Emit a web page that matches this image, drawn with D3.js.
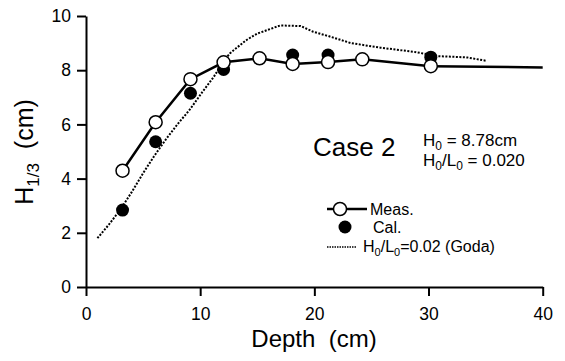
<!DOCTYPE html>
<html><head><meta charset="utf-8">
<script src="https://cdn.jsdelivr.net/npm/d3@7"></script>
<style>
body{margin:0;background:#fff;}
text{font-family:"Liberation Sans",Arial,Helvetica,sans-serif;fill:#000;white-space:pre;}
</style></head><body>
<svg id="c" width="565" height="361"></svg>
<script>
// Data
const measDepth = [3.2, 6.1, 9.15, 12.05, 15.2, 18.1, 21.2, 24.2, 30.2];
const measH     = [4.29, 6.08, 7.67, 8.29, 8.44, 8.23, 8.30, 8.40, 8.15];
const measTailDepth = [30.2, 40];
const measTailH     = [8.15, 8.10];
const calDepth = [3.2, 6.1, 9.15, 12.05, 18.1, 21.2, 30.2];
const calH     = [2.84, 5.36, 7.15, 8.03, 8.56, 8.56, 8.48];
const godaDepth = [1.0, 2.0, 3.0, 4.0, 5.0, 6.0, 7.0, 8.0, 9.1, 10.2, 11.2, 12.0, 12.6, 14.0, 15.0, 17.0, 18.8, 19.9, 21.3, 23.2, 25.8, 28.7, 30.8, 33.4, 35.0];
const godaH     = [1.8, 2.3, 2.85, 3.5, 4.2, 4.85, 5.45, 6.0, 6.55, 7.2, 7.76, 8.3, 8.62, 9.1, 9.35, 9.65, 9.63, 9.42, 9.25, 9.0, 8.83, 8.68, 8.52, 8.47, 8.35];
const xTicks = [0, 10, 20, 30, 40];
const yTicks = [0, 2, 4, 6, 8, 10];

const svg = d3.select("#c");
const x = d3.scaleLinear().domain([0, 40]).range([86, 542.7]);
const y = d3.scaleLinear().domain([0, 10]).range([287, 16]);

// Axes
const xAxis = svg.append("g").attr("transform", `translate(0,${y(0)})`)
  .call(d3.axisBottom(x).tickValues(xTicks).tickSize(9).tickSizeOuter(0).tickPadding(12));
const yAxis = svg.append("g").attr("transform", `translate(${x(0)},0)`)
  .call(d3.axisLeft(y).tickValues(yTicks).tickSize(9).tickSizeOuter(0).tickPadding(6));
[xAxis, yAxis].forEach(a => {
  a.selectAll("path").attr("stroke", "#000").attr("stroke-width", 2);
  a.selectAll("line").attr("stroke", "#000").attr("stroke-width", 2);
  a.selectAll("text").attr("font-size", 17.5).attr("font-family", "Liberation Sans, Arial, sans-serif").attr("fill", "#000");
});

// Axis titles
svg.append("text").attr("x", 314).attr("y", 347).attr("text-anchor", "middle")
  .attr("font-size", 24).text("Depth  (cm)");
const yl = svg.append("text").attr("transform", "translate(33,152) rotate(-90)")
  .attr("text-anchor", "middle").attr("font-size", 25);
yl.append("tspan").text("H");
yl.append("tspan").attr("font-size", 17).attr("dy", 6).text("1/3");
yl.append("tspan").attr("dy", -6).text("  (cm)");

// Goda dotted line
const line = d3.line().x(d => x(d[0])).y(d => y(d[1]));
svg.append("path").datum(godaDepth.map((d, i) => [d, godaH[i]]))
  .attr("d", line).attr("fill", "none").attr("stroke", "#000")
  .attr("stroke-width", 2).attr("stroke-dasharray", "2,1.5");

// Measured line
svg.append("path").datum(measDepth.map((d, i) => [d, measH[i]]))
  .attr("d", line).attr("fill", "none").attr("stroke", "#000").attr("stroke-width", 2.5);
svg.append("path").datum(measTailDepth.map((d, i) => [d, measTailH[i]]))
  .attr("d", line).attr("fill", "none").attr("stroke", "#000").attr("stroke-width", 2.5);

// Calculated dots
svg.selectAll("circle.cal").data(calDepth.map((d, i) => [d, calH[i]])).enter()
  .append("circle").attr("class", "cal")
  .attr("cx", d => x(d[0])).attr("cy", d => y(d[1])).attr("r", 6.5).attr("fill", "#000");

// Measured open circles
svg.selectAll("circle.meas").data(measDepth.map((d, i) => [d, measH[i]])).enter()
  .append("circle").attr("class", "meas")
  .attr("cx", d => x(d[0])).attr("cy", d => y(d[1])).attr("r", 6.5)
  .attr("fill", "#fff").attr("stroke", "#000").attr("stroke-width", 1.5);

// Annotation
svg.append("text").attr("x", 313).attr("y", 156).attr("font-size", 26).text("Case 2");
const a1 = svg.append("text").attr("x", 423).attr("y", 146).attr("font-size", 17);
a1.append("tspan").text("H");
a1.append("tspan").attr("font-size", 12).attr("dy", 4).text("0");
a1.append("tspan").attr("dy", -4).text(" = 8.78cm");
const a2 = svg.append("text").attr("x", 423).attr("y", 166).attr("font-size", 17);
a2.append("tspan").text("H");
a2.append("tspan").attr("font-size", 12).attr("dy", 4).text("0");
a2.append("tspan").attr("dy", -4).text("/L");
a2.append("tspan").attr("font-size", 12).attr("dy", 4).text("0");
a2.append("tspan").attr("dy", -4).text(" = 0.020");

// Legend
svg.append("line").attr("x1", 327).attr("x2", 367).attr("y1", 209).attr("y2", 209)
  .attr("stroke", "#000").attr("stroke-width", 2.5);
svg.append("circle").attr("cx", 340).attr("cy", 209).attr("r", 6.5)
  .attr("fill", "#fff").attr("stroke", "#000").attr("stroke-width", 1.5);
svg.append("text").attr("x", 370).attr("y", 215).attr("font-size", 16).text("Meas.");
svg.append("circle").attr("cx", 345).attr("cy", 227).attr("r", 6.5).attr("fill", "#000");
svg.append("text").attr("x", 373).attr("y", 233).attr("font-size", 16).text("Cal.");
svg.append("line").attr("x1", 327).attr("x2", 357).attr("y1", 247).attr("y2", 247)
  .attr("stroke", "#000").attr("stroke-width", 1.5).attr("stroke-dasharray", "1.5,1");
const g3 = svg.append("text").attr("x", 363).attr("y", 252).attr("font-size", 16);
g3.append("tspan").text("H");
g3.append("tspan").attr("font-size", 11).attr("dy", 4).text("0");
g3.append("tspan").attr("dy", -4).text("/L");
g3.append("tspan").attr("font-size", 11).attr("dy", 4).text("0");
g3.append("tspan").attr("dy", -4).text("=0.02 (Goda)");
</script>
</body></html>
